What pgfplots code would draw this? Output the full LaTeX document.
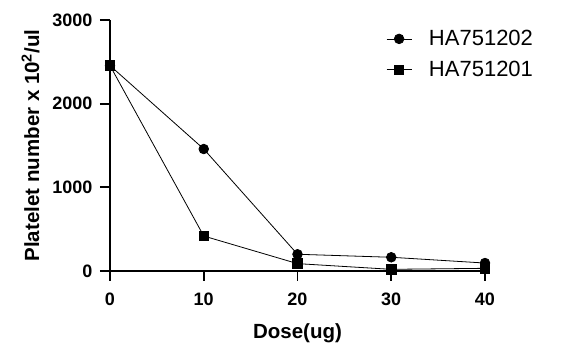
\documentclass[border=0pt]{standalone}
\usepackage{pgfplots}
\pgfplotsset{compat=1.18}
\usepackage{fontspec}
\setmainfont{Liberation Sans}
\begin{document}
\begin{tikzpicture}
\path[use as bounding box] (-110pt,-84pt) rectangle (458pt,271pt);
\begin{axis}[
  at={(0,0)}, anchor=south west,
  width=375pt, height=251pt, scale only axis,
  xmin=0, xmax=40, ymin=0, ymax=3000,
  axis x line*=bottom, axis y line*=left,
  axis line style={line width=1.8pt},
  x axis line style={shorten <=-7pt},
  y axis line style={shorten <=-10pt},
  xtick={0,10,20,30,40}, ytick={0,1000,2000,3000},
  tick style={line width=1.8pt, black},
  tick align=outside, major tick length=10pt,
  /pgf/number format/assume math mode=true,
  /pgf/number format/1000 sep={},
  scaled y ticks=false,
  ticklabel style={font=\fontsize{18}{19}\selectfont\bfseries},
  xticklabel style={yshift=-8pt},
  yticklabel style={xshift=-4pt},
  xlabel={\textbf{Dose(ug)}},
  ylabel={\textbf{Platelet number x 10\textsuperscript{2}/ul}},
  label style={font=\fontsize{20.5}{22}\selectfont},
  xlabel style={yshift=-11pt},
  ylabel style={yshift=6pt},
  clip=false,
  legend style={draw=none, fill=none, at={(0.728,0.975)}, anchor=north west,
    font=\fontsize{22}{24}\selectfont, row sep=10pt,
    nodes={inner xsep=17pt}},
  legend cell align=left,
  legend image code/.code={\draw[mark repeat=2,mark phase=2] plot coordinates {(0pt,0pt) (12.5pt,0pt) (25pt,0pt)};},
]
\addplot[black, line width=0.8pt, mark=*, mark size=4.8pt, mark options={solid}] coordinates {
 (0,2455) (10,1458) (20,200) (30,164) (40,95)};
\addlegendentry{HA751202}
\addplot[black, line width=0.8pt, mark=square*, mark size=4.8pt, mark options={solid}] coordinates {
 (0,2455) (10,418) (20,88) (30,20) (40,32)};
\addlegendentry{HA751201}
\end{axis}
\end{tikzpicture}
\end{document}
